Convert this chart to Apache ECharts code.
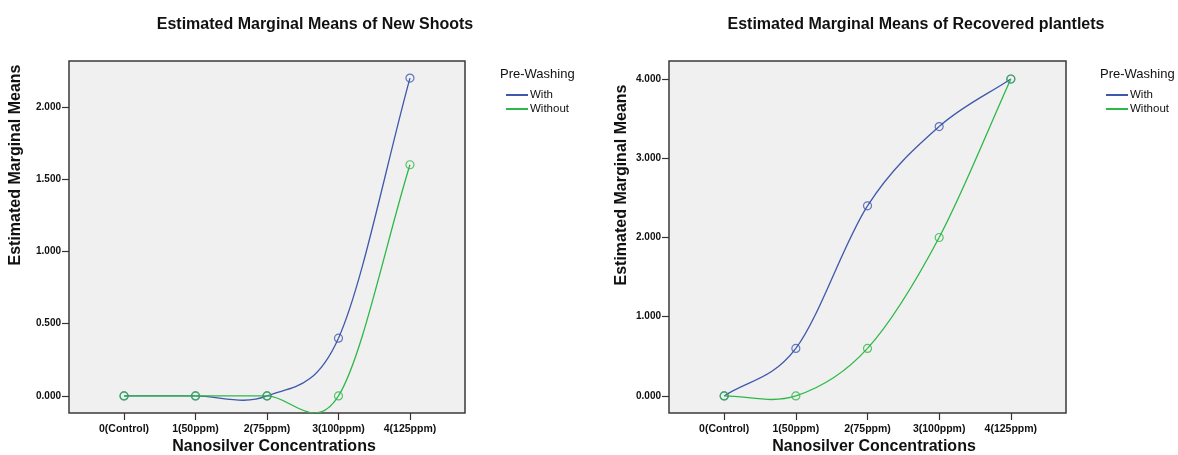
<!DOCTYPE html>
<html>
<head>
<meta charset="utf-8">
<script src="https://cdn.jsdelivr.net/npm/echarts@6/dist/echarts.min.js"></script>
<style>
html,body{margin:0;padding:0;background:#fff;}
#main{width:1178px;height:455px;}
</style>
</head>
<body>
<div id="main"></div>
<script>
// ---- data ----
const categories = ['0(Control)', '1(50ppm)', '2(75ppm)', '3(100ppm)', '4(125ppm)'];
const categoryIndex = [0, 1, 2, 3, 4];
const seriesNames = ['With', 'Without'];
const shootsWith = [0, 0, 0, 0.4, 2.2];
const shootsWithout = [0, 0, 0, 0, 1.6];
const plantletsWith = [0, 0.6, 2.4, 3.4, 4.0];
const plantletsWithout = [0, 0, 0.6, 2.0, 4.0];
const shootsTicks = [0, 0.5, 1, 1.5, 2];
const plantletsTicks = [0, 1, 2, 3, 4];
const titles = ['Estimated Marginal Means of New Shoots', 'Estimated Marginal Means of Recovered plantlets'];
const yTitle = 'Estimated Marginal Means';
const xTitle = 'Nanosilver Concentrations';
const legendTitle = 'Pre-Washing';

// ---- style ----
const FONT = '"Liberation Sans", Arial, Helvetica, sans-serif';
const BLUE = '#3e58ac';
const GREEN = '#2eb848';
const AXIS = '#333333';
const seriesColors = [BLUE, GREEN];

const chart = echarts.init(document.getElementById('main'), null, {renderer: 'canvas'});

function pairs(vals) { return categoryIndex.map((x, i) => [x, vals[i]]); }

// Catmull-Rom style interpolating curve through pixel points -> cubic bezier segments (rendering only)
function splineSegments(pts) {
  const n = pts.length;
  const slope = [];
  for (let i = 0; i < n; i++) {
    const p = pts[Math.max(i - 1, 0)], q = pts[Math.min(i + 1, n - 1)];
    slope.push((q[1] - p[1]) / (q[0] - p[0]));
  }
  const segs = [];
  for (let i = 0; i < n - 1; i++) {
    const hi = pts[i + 1][0] - pts[i][0];
    segs.push({
      x1: pts[i][0], y1: pts[i][1],
      cpx1: pts[i][0] + hi / 3, cpy1: pts[i][1] + slope[i] * hi / 3,
      cpx2: pts[i + 1][0] - hi / 3, cpy2: pts[i + 1][1] - slope[i + 1] * hi / 3,
      x2: pts[i + 1][0], y2: pts[i + 1][1]
    });
  }
  return segs;
}

function xAxisFor(gi) {
  return {
    type: 'value', gridIndex: gi, min: -0.77, max: 4.77,
    axisLine: {show: false, onZero: false},
    splitLine: {show: false},
    axisTick: {show: true, length: 7, customValues: categoryIndex, lineStyle: {color: AXIS, width: 1.2}},
    axisLabel: {
      customValues: categoryIndex, margin: 11,
      formatter: v => categories[Math.round(v)],
      fontFamily: FONT, fontSize: 10.5, fontWeight: 'bold', color: '#111'
    }
  };
}
function yAxisFor(gi, min, max, ticks) {
  return {
    type: 'value', gridIndex: gi, min: min, max: max,
    axisLine: {show: false, onZero: false},
    splitLine: {show: false},
    axisTick: {show: true, length: 7, customValues: ticks, lineStyle: {color: AXIS, width: 1.2}},
    axisLabel: {
      customValues: ticks, margin: 8,
      formatter: v => v.toFixed(3),
      fontFamily: FONT, fontSize: 10, fontWeight: 'bold', color: '#111'
    }
  };
}
function curveSeries(si, gi, vals) {
  const color = seriesColors[si];
  return {
    name: seriesNames[si], type: 'custom', xAxisIndex: gi, yAxisIndex: gi,
    data: pairs(vals), encode: {x: 0, y: 1}, silent: true, clip: true,
    itemStyle: {color: color},
    renderItem: function (params, api) {
      if (params.dataIndexInside !== 0) return null;
      const pts = [];
      for (let k = 0; k < params.dataInsideLength; k++) {
        pts.push(api.coord([api.value(0, k), api.value(1, k)]));
      }
      const cs = params.coordSys;
      return {
        type: 'group',
        clipPath: {type: 'rect', shape: {x: cs.x, y: cs.y, width: cs.width, height: cs.height}},
        children: splineSegments(pts).map(s => ({
          type: 'bezierCurve', shape: s,
          style: {stroke: color, lineWidth: 1.3, fill: 'none'}
        }))
      };
    }
  };
}
function markerSeries(si, gi, vals) {
  const color = seriesColors[si];
  return {
    name: seriesNames[si], type: 'scatter', xAxisIndex: gi, yAxisIndex: gi,
    data: pairs(vals), symbol: 'circle', symbolSize: 8,
    itemStyle: {color: 'rgba(0,0,0,0)', borderColor: color, borderWidth: 1.2},
    emphasis: {disabled: true}
  };
}
function legendFor(left) {
  return {
    data: seriesNames.map((n, i) => ({name: n, icon: 'rect', itemStyle: {color: seriesColors[i], borderWidth: 0}})),
    orient: 'vertical', left: left, top: 88, padding: 0,
    itemWidth: 22, itemHeight: 2, itemGap: 0,
    textStyle: {fontFamily: FONT, fontSize: 11.5, color: '#111', lineHeight: 14, padding: [0, 0, 0, -3]}
  };
}
function txt(x, y, text, size, weight, align, rot) {
  return {
    type: 'text', x: x, y: y, rotation: rot || 0,
    style: {text: text, fontFamily: FONT, fontSize: size, fontWeight: weight, fill: '#111',
      align: align, verticalAlign: 'middle'}
  };
}

chart.setOption({
  backgroundColor: '#ffffff',
  animation: false,
  title: [
    {text: titles[0], left: 310, top: 12, textAlign: 'center',
      textStyle: {fontFamily: FONT, fontSize: 16, fontWeight: 'bold', color: '#111'}},
    {text: titles[1], left: 911, top: 12, textAlign: 'center',
      textStyle: {fontFamily: FONT, fontSize: 16, fontWeight: 'bold', color: '#111'}}
  ],
  grid: [
    {left: 69, top: 61, width: 396, height: 352, show: true, backgroundColor: '#f0f0f0', borderColor: '#3a3a3a', borderWidth: 1.5, containLabel: false},
    {left: 669, top: 61, width: 397, height: 352, show: true, backgroundColor: '#f0f0f0', borderColor: '#3a3a3a', borderWidth: 1.5, containLabel: false}
  ],
  xAxis: [xAxisFor(0), xAxisFor(1)],
  yAxis: [yAxisFor(0, -0.118, 2.318, shootsTicks), yAxisFor(1, -0.215, 4.227, plantletsTicks)],
  legend: [legendFor(506), legendFor(1106)],
  series: [
    curveSeries(0, 0, shootsWith),
    curveSeries(1, 0, shootsWithout),
    curveSeries(0, 1, plantletsWith),
    curveSeries(1, 1, plantletsWithout),
    markerSeries(0, 0, shootsWith),
    markerSeries(1, 0, shootsWithout),
    markerSeries(0, 1, plantletsWith),
    markerSeries(1, 1, plantletsWithout)
  ],
  graphic: [
    txt(16, 165, yTitle, 16, 'bold', 'center', Math.PI / 2),
    txt(622, 185, yTitle, 16, 'bold', 'center', Math.PI / 2),
    txt(274, 447, xTitle, 16, 'bold', 'center'),
    txt(874, 447, xTitle, 16, 'bold', 'center'),
    txt(500, 74, legendTitle, 13, 'normal', 'left'),
    txt(1100, 74, legendTitle, 13, 'normal', 'left')
  ]
});
</script>
</body>
</html>
